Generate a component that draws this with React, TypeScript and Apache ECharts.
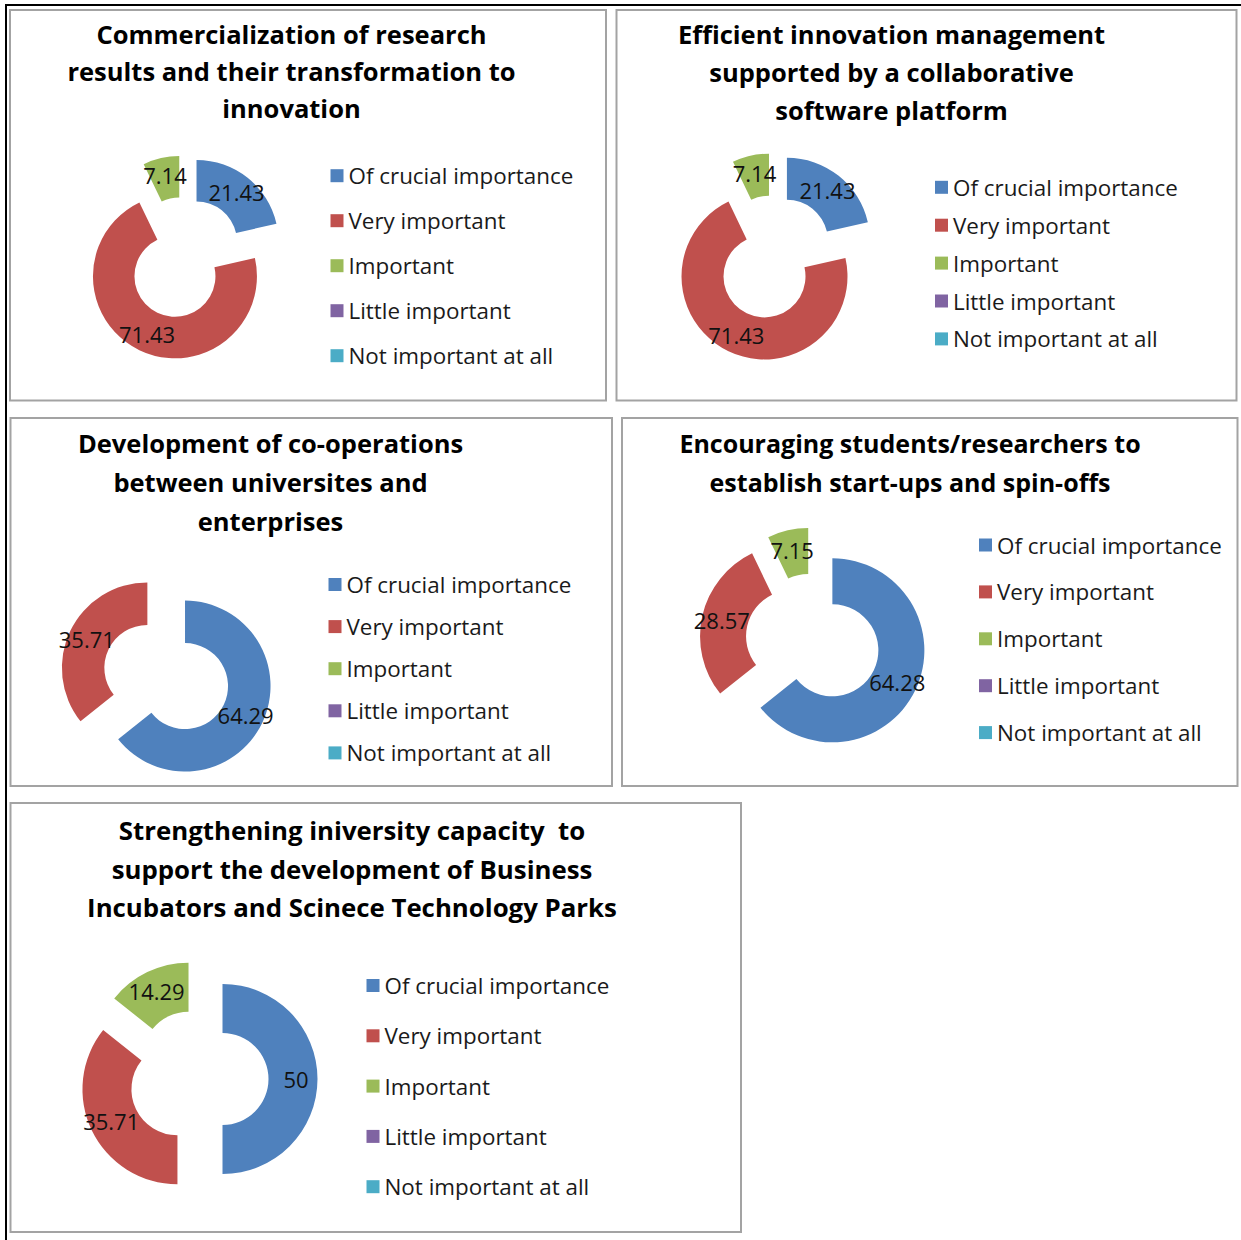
import React, { useEffect, useRef } from "react";
import * as echarts from "echarts";

const categories = [
  "Of crucial importance",
  "Very important",
  "Important",
  "Little important",
  "Not important at all",
];

const panelTitles = [
  "Commercialization of research\nresults and their transformation to\ninnovation",
  "Efficient innovation management\nsupported by a collaborative\nsoftware platform",
  "Development of co-operations\nbetween universites and\nenterprises",
  "Encouraging students/researchers to\nestablish start-ups and spin-offs",
  "Strengthening iniversity capacity  to\nsupport the development of Business\nIncubators and Scinece Technology Parks",
];

const commercializationValues = [21.43, 71.43, 7.14, 0, 0];
const platformValues = [21.43, 71.43, 7.14, 0, 0];
const cooperationValues = [64.29, 35.71, 0, 0, 0];
const startupValues = [64.28, 28.57, 7.15, 0, 0];
const incubatorValues = [50, 35.71, 14.29, 0, 0];

const seriesValues = [
  commercializationValues,
  platformValues,
  cooperationValues,
  startupValues,
  incubatorValues,
];

const palette = ["#4F81BD", "#C0504D", "#9BBB59", "#8064A2", "#4BACC6"];
const FONT = "'Open Sans', 'DejaVu Sans', sans-serif";

// layout per panel (positions / sizes only)
const panels = [
  { box: [10, 10, 596, 390.5], title: [291.5, 15, 37], titleSize: 25.5, center: [183.8, 257.9], radius: [40.5, 82], offset: 20.4, legend: [330.5, 162.7, 19] },
  { box: [616.5, 10, 620, 390.5], title: [891.5, 15, 38], titleSize: 25.5, center: [773.7, 257.3], radius: [41, 83], offset: 21.2, legend: [935, 174.3, 11.9] },
  { box: [10.5, 418, 601.5, 368], title: [270.5, 423.5, 39], titleSize: 25.5, center: [166.2, 677], radius: [43, 85.5], offset: 20.9, legend: [328.5, 571.5, 16.1] },
  { box: [622, 418, 615.5, 368], title: [910, 423.5, 39], titleSize: 25, center: [813, 641], radius: [46, 92], offset: 21.5, legend: [979, 532, 20.9] },
  { box: [10.5, 803, 730.5, 429], title: [352, 811, 38.5], titleSize: 25.8, center: [198.8, 1079], radius: [46, 95], offset: 23.7, legend: [366.5, 972.5, 24.3] },
];

export default function App() {
  const ref = useRef<HTMLDivElement>(null);

  useEffect(() => {
    document.body.style.margin = "0";
    if (!ref.current) return;
    const chart = echarts.init(ref.current, null, { renderer: "svg" });

    const series = panels.map((p, i) => ({
      type: "pie",
      name: "panel" + i,
      center: p.center,
      radius: p.radius,
      startAngle: 90,
      clockwise: true,
      selectedMode: "multiple",
      selectedOffset: p.offset,
      avoidLabelOverlap: false,
      emphasis: { scale: false, disabled: true },
      label: {
        show: true,
        position: "inside",
        formatter: "{c}",
        fontFamily: FONT,
        fontSize: 22,
        color: "#111",
      },
      labelLine: { show: false },
      data: categories.map((name, k) => {
        const v = seriesValues[i][k];
        return {
          name,
          value: v,
          selected: v > 0,
          itemStyle: { color: palette[k] },
          label: v > 0 ? {} : { show: false },
        };
      }),
    }));

    const legends = panels.map((p) => ({
      orient: "vertical",
      left: p.legend[0],
      top: p.legend[1],
      itemGap: p.legend[2],
      padding: 0,
      icon: "rect",
      itemWidth: 13,
      itemHeight: 13,
      selectedMode: false,
      data: categories,
      textStyle: {
        fontFamily: FONT,
        fontSize: 22.4,
        lineHeight: 26,
        color: "#1a1a1a",
      },
    }));

    const graphics: any[] = [];
    graphics.push({
      type: "line",
      shape: { x1: 5, y1: 5, x2: 1241, y2: 5 },
      style: { stroke: "#000", lineWidth: 2 },
      silent: true,
    });
    graphics.push({
      type: "line",
      shape: { x1: 6, y1: 4, x2: 6, y2: 1240 },
      style: { stroke: "#000", lineWidth: 2 },
      silent: true,
    });
    panels.forEach((p, i) => {
      graphics.push({
        type: "rect",
        shape: { x: p.box[0], y: p.box[1], width: p.box[2], height: p.box[3] },
        style: { fill: "none", stroke: "#a3a3a3", lineWidth: 2 },
        silent: true,
      });
      graphics.push({
        type: "text",
        x: p.title[0],
        y: p.title[1],
        style: {
          text: panelTitles[i],
          fontFamily: FONT,
          fontWeight: "bold",
          fontSize: p.titleSize,
          lineHeight: p.title[2],
          align: "center",
          verticalAlign: "top",
          fill: "#000",
        },
        silent: true,
      });
    });

    chart.setOption({
      animation: false,
      backgroundColor: "#ffffff",
      color: palette,
      legend: legends,
      series,
      graphic: graphics,
    });

    return () => chart.dispose();
  }, []);

  return <div ref={ref} style={{ width: 1241, height: 1240 }} />;
}
